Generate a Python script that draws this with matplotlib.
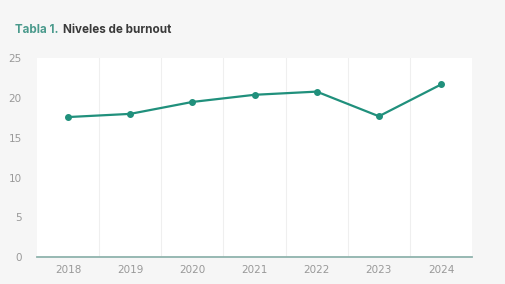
import matplotlib
matplotlib.use('Agg')
import matplotlib.pyplot as plt

years = ['2018', '2019', '2020', '2021', '2022', '2023', '2024']
burnout = [17.6, 18.0, 19.5, 20.4, 20.8, 17.7, 21.7]
yticks = [0, 5, 10, 15, 20, 25]

TEAL = '#20907c'
BG = '#f6f6f6'

fig = plt.figure(figsize=(5.05, 2.84), dpi=100, facecolor=BG)
ax = fig.add_axes([0.073, 0.095, 0.862, 0.70])
ax.set_facecolor('white')

x = range(len(years))
ax.plot(x, burnout, color=TEAL, lw=1.6, marker='o', ms=4, zorder=3)

ax.set_xlim(-0.5, len(years) - 0.5)
ax.set_ylim(0, 25)
ax.set_xticks(list(x))
ax.set_xticklabels(years)
ax.set_yticks(yticks)

# vertical separators between categories
for b in range(1, len(years)):
    ax.axvline(b - 0.5, color='#efefef', lw=0.8, zorder=1)

for s in ['top', 'right', 'left']:
    ax.spines[s].set_visible(False)
ax.spines['bottom'].set_color('#8fb3ad')
ax.spines['bottom'].set_linewidth(1.3)
ax.tick_params(axis='both', length=0, labelsize=7.5, labelcolor='#999999', pad=6)
ax.tick_params(axis='y', pad=11)

t1 = fig.text(0.03, 0.895, 'Tabla 1.', color='#4a9a8c', fontsize=8.4,
              fontweight='bold', family='Inter', va='center')
fig.canvas.draw()
bb = t1.get_window_extent().transformed(fig.transFigure.inverted())
fig.text(bb.x1 + 0.008, 0.895, 'Niveles de burnout', color='#3a3a3a',
         fontsize=8.4, fontweight='bold', family='Inter', va='center')

fig.savefig('out.png', dpi=100, facecolor=BG)
